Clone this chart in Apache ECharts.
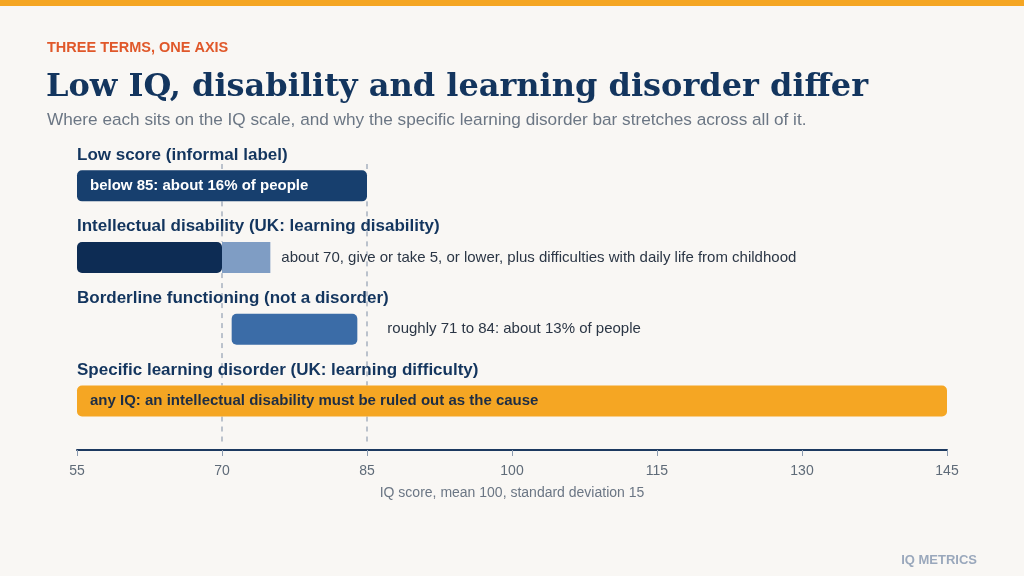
<!DOCTYPE html>
<html>
<head>
<meta charset="utf-8">
<title>Low IQ, disability and learning disorder differ</title>
<script src="https://cdn.jsdelivr.net/npm/echarts@6/dist/echarts.min.js"></script>
<style>
  html, body { margin: 0; padding: 0; background: #f9f7f4; }
  #chart { width: 1024px; height: 576px; }
</style>
</head>
<body>
<div id="chart"></div>
<script>
// Data
const rowLabels = [
  "Low score (informal label)",
  "Intellectual disability (UK: learning disability)",
  "Borderline functioning (not a disorder)",
  "Specific learning disorder (UK: learning difficulty)",
];
const rangeStart = [55, 55, 71, 55];
const rangeEnd = [85, 70, 84, 145];
// "give or take 5" zone past the cut-off
const fuzzEnd = [null, 75, null, null];
const notes = [
  "below 85: about 16% of people",
  "about 70, give or take 5, or lower, plus difficulties with daily life from childhood",
  "roughly 71 to 84: about 13% of people",
  "any IQ: an intellectual disability must be ruled out as the cause",
];
const noteInside = [true, false, false, true];
const cutoffs = [70, 85];
const xTicks = [55, 70, 85, 100, 115, 130, 145];

// Styles
const barColors = ["#173f6e", "#0d2c54", "#3b6ca7", "#f5a623"];
const noteColors = ["#ffffff", null, null, "#1c2d45"];
const fuzzColor = "#7f9dc4";
const navy = "#13355e";
const font = "'Liberation Sans', Arial, sans-serif";
const barH = 31;

const chart = echarts.init(document.getElementById("chart"));

const renderRow = (params, api) => {
  const i = api.value(2);
  const p0 = api.coord([api.value(0), i]);
  const p1 = api.coord([api.value(1), i]);
  const left = api.coord([xTicks[0], i]);
  const children = [];

  // row heading, always flush with the axis start
  children.push({
    type: "text",
    style: {
      x: left[0], y: left[1] - 31,
      text: rowLabels[i],
      fill: navy,
      font: "bold 17px " + font,
      verticalAlign: "middle",
    },
  });

  let rightEdge = p1[0];
  if (fuzzEnd[i] != null) {
    const pf = api.coord([fuzzEnd[i], i]);
    children.push({
      type: "rect",
      shape: { x: p1[0], y: p1[1] - barH / 2, width: pf[0] - p1[0], height: barH },
      style: { fill: fuzzColor },
    });
    rightEdge = pf[0];
  }

  children.push({
    type: "rect",
    shape: { x: p0[0], y: p0[1] - barH / 2, width: p1[0] - p0[0], height: barH, r: 5 },
    style: { fill: barColors[i] },
  });

  if (noteInside[i]) {
    children.push({
      type: "text",
      style: {
        x: p0[0] + 13, y: p0[1],
        text: notes[i],
        fill: noteColors[i],
        font: "bold 15px " + font,
        verticalAlign: "middle",
      },
    });
  } else {
    // borderline note sits clear of the 85 line
    const gap = fuzzEnd[i] != null ? 11 : 30;
    children.push({
      type: "text",
      style: {
        x: rightEdge + gap, y: p0[1],
        text: notes[i],
        fill: "#2b3645",
        font: "15px " + font,
        verticalAlign: "middle",
      },
    });
  }
  return { type: "group", children: children };
};

// Cut-off lines run behind the bars: z ordering between custom series
// wasn't reliable, so just leave gaps where a bar covers the line.
const renderCutoff = (params, api) => {
  const v = api.value(0);
  const x = api.coord([v, 0])[0];
  const cs = params.coordSys;
  const stops = [cs.y + 14];
  rowLabels.forEach((_, i) => {
    const end = fuzzEnd[i] != null ? fuzzEnd[i] : rangeEnd[i];
    if (v >= rangeStart[i] && v <= end) {
      const y = api.coord([v, i])[1];
      stops.push(y - barH / 2, y + barH / 2);
    }
  });
  stops.push(cs.y + cs.height - 5);
  const children = [];
  for (let k = 0; k < stops.length; k += 2) {
    children.push({
      type: "line",
      shape: { x1: x, y1: stops[k], x2: x, y2: stops[k + 1] },
      style: { stroke: "#a7b1bf", lineWidth: 1.5, lineDash: [5, 5] },
    });
  }
  return { type: "group", children: children };
};

const option = {
  backgroundColor: "#f9f7f4",
  animation: false,
  textStyle: { fontFamily: font },
  graphic: [
    { type: "rect", shape: { x: 0, y: 0, width: 1024, height: 6 }, style: { fill: "#f5a623" } },
    {
      type: "text", left: 47, top: 40,
      style: { text: "THREE TERMS, ONE AXIS", fill: "#e0582a", font: "bold 14.5px " + font },
    },
    {
      type: "text", left: 46, top: 72,
      style: {
        text: "Low IQ, disability and learning disorder differ",
        fill: navy,
        font: "bold 32px 'DejaVu Serif', Georgia, serif",
      },
    },
    {
      type: "text", left: 47, top: 112,
      style: {
        text: "Where each sits on the IQ scale, and why the specific learning disorder bar stretches across all of it.",
        fill: "#6b7684",
        font: "17.2px " + font,
      },
    },
    {
      type: "text", right: 47, top: 554,
      style: { text: "IQ METRICS", fill: "#9aa8bc", font: "bold 13px " + font },
    },
  ],
  grid: { left: 77, right: 77, top: 150, bottom: 126 },
  xAxis: {
    type: "value",
    min: xTicks[0],
    max: xTicks[xTicks.length - 1],
    interval: xTicks[1] - xTicks[0],
    splitLine: { show: false },
    axisLine: { onZero: false, lineStyle: { color: "#1d3a60", width: 2 } },
    axisTick: { show: true, length: 6, lineStyle: { color: "#8b9bb0" } },
    axisLabel: { color: "#5f6b78", fontSize: 14, margin: 14 },
    name: "IQ score, mean 100, standard deviation 15",
    nameLocation: "middle",
    nameGap: 36,
    nameTextStyle: { color: "#6b7684", fontSize: 14 },
  },
  yAxis: {
    type: "value",
    inverse: true,
    min: -0.5,
    max: 3.683,
    show: false,
  },
  series: [
    {
      type: "custom",
      renderItem: renderCutoff,
      data: cutoffs.map((v) => [v]),
      encode: { x: 0 },
      silent: true,
    },
    {
      type: "custom",
      renderItem: renderRow,
      data: rowLabels.map((_, i) => [rangeStart[i], rangeEnd[i], i]),
      encode: { x: [0, 1], y: 2 },
      clip: false,
    },
  ],
};

chart.setOption(option);
</script>
</body>
</html>
